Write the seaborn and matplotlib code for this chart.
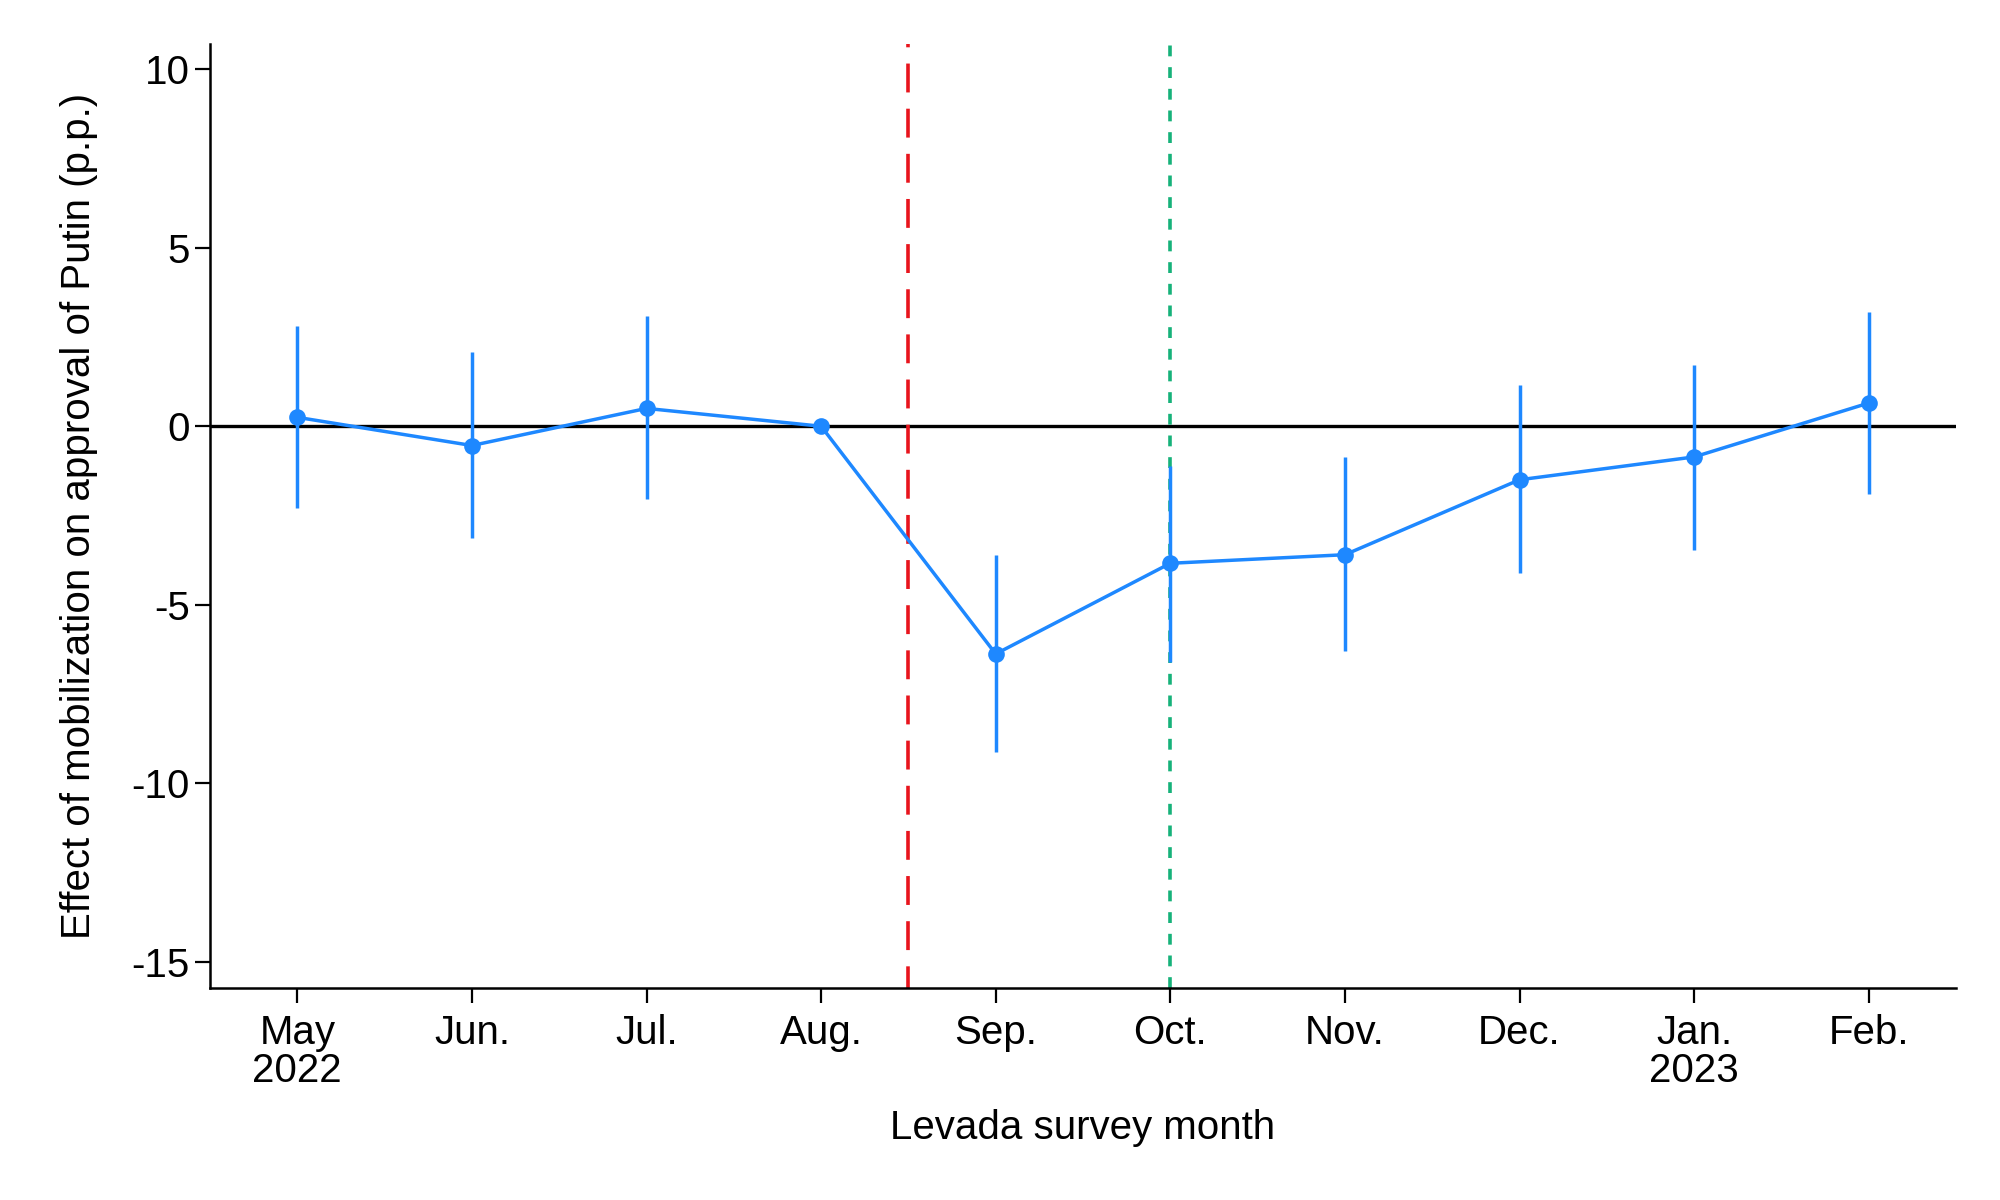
import pandas as pd
import numpy as np
import matplotlib
matplotlib.use("Agg")
import matplotlib.pyplot as plt
import seaborn as sns

# Data
months = ["May\n2022", "Jun.", "Jul.", "Aug.", "Sep.", "Oct.", "Nov.", "Dec.", "Jan.\n2023", "Feb."]
effect = [0.25, -0.54, 0.50, 0.0, -6.38, -3.84, -3.60, -1.50, -0.86, 0.65]
ci_low = [-2.30, -3.12, -2.04, np.nan, -9.14, -6.60, -6.30, -4.12, -3.48, -1.90]
ci_high = [2.80, 2.08, 3.08, np.nan, -3.62, -1.11, -0.86, 1.15, 1.72, 3.19]

df = pd.DataFrame({"pos": range(len(months)), "effect": effect,
                   "lo": ci_low, "hi": ci_high})

blue = "#1e88ff"

sns.set_style("ticks")
plt.rcParams["font.family"] = ["Liberation Sans", "DejaVu Sans"]
plt.rcParams["axes.unicode_minus"] = False
plt.rcParams["text.color"] = "black"
plt.rcParams["axes.labelcolor"] = "black"
plt.rcParams["xtick.color"] = "black"
plt.rcParams["ytick.color"] = "black"

fig, ax = plt.subplots(figsize=(20, 12), dpi=100)
fig.subplots_adjust(left=0.105, right=0.978, top=0.963, bottom=0.177)

# zero line
ax.axhline(0, color="black", lw=2.4, zorder=1)

# event lines
ax.axvline(3.5, color="#e8141c", lw=2.6, ls=(2, (8, 4.5)), zorder=2)
ax.axvline(5, color="#16b27a", lw=2.6, ls=(0, (3, 3)), zorder=2)

# confidence intervals
ax.vlines(df["pos"], df["lo"], df["hi"], color=blue, lw=2.5, zorder=3)

sns.lineplot(data=df, x="pos", y="effect", color=blue, lw=2.5,
             marker="o", markersize=12, markeredgewidth=0, ax=ax, zorder=4)

ax.set_xlim(-0.5, 9.5)
ax.set_ylim(-15.73, 10.7)
ax.set_xticks(df["pos"])
ax.set_xticklabels(months, fontsize=29, linespacing=1.0)
ax.set_yticks([10, 5, 0, -5, -10, -15])
ax.set_yticklabels(["10", "5", "0", "-5", "-10", "-15"], fontsize=29)
ax.tick_params(axis="both", length=11, width=1.6, color="black")
ax.tick_params(axis="x", pad=8)

ax.set_xlabel("Levada survey month", fontsize=29, labelpad=14)
ax.set_ylabel("Effect of mobilization on approval of Putin (p.p.)", fontsize=29, labelpad=24)

for side in ["top", "right"]:
    ax.spines[side].set_visible(False)
for side in ["left", "bottom"]:
    ax.spines[side].set_linewidth(1.8)
    ax.spines[side].set_color("black")

fig.savefig("out.png", dpi=100, facecolor="white")
